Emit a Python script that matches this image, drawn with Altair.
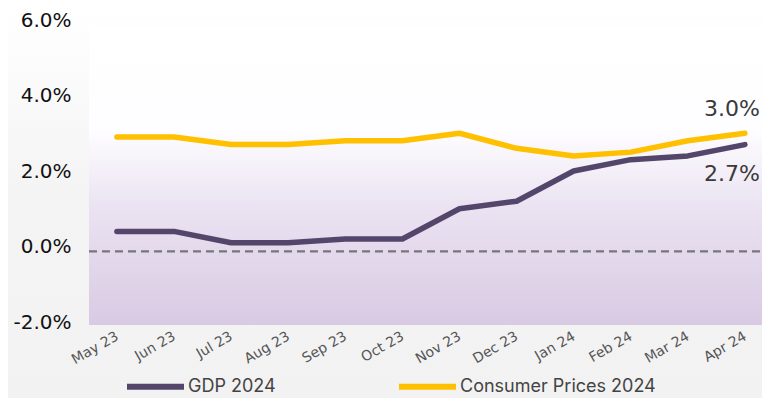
import altair as alt
import pandas as pd

months = ["May 23", "Jun 23", "Jul 23", "Aug 23", "Sep 23", "Oct 23",
          "Nov 23", "Dec 23", "Jan 24", "Feb 24", "Mar 24", "Apr 24"]
gdp = [0.4, 0.4, 0.1, 0.1, 0.2, 0.2, 1.0, 1.2, 2.0, 2.3, 2.4, 2.7]
cpi = [2.9, 2.9, 2.7, 2.7, 2.8, 2.8, 3.0, 2.6, 2.4, 2.5, 2.8, 3.0]
series_names = ["GDP 2024", "Consumer Prices 2024"]
series_colors = ["#54466a", "#ffc000"]
ref_line = [-0.13]
y_ticks = [-2, 0, 2, 4, 6]

rows = []
for i, m in enumerate(months):
    rows.append({"month": m, "series": series_names[0], "value": gdp[i]})
    rows.append({"month": m, "series": series_names[1], "value": cpi[i]})
df = pd.DataFrame(rows)

last = pd.DataFrame([
    {"month": months[-1], "series": series_names[1], "value": cpi[-1],
     "label": f"{cpi[-1]:.1f}%"},
    {"month": months[-1], "series": series_names[0], "value": gdp[-1],
     "label": f"{gdp[-1]:.1f}%"},
])

W, H = 673, 302
yscale = alt.Scale(domain=[-2, 6], nice=False, zero=False)
xscale = alt.Scale(type="point", padding=0.394, align=0.62)

xs = alt.X("month:N", sort=months, scale=xscale,
           axis=alt.Axis(title=None, labelAngle=-30, labelAlign="right",
                         labelBaseline="middle", labelPadding=13,
                         labelFont="DejaVu Sans", labelFontSize=14, labelColor="#555555",
                         domain=False, ticks=False, grid=False, zindex=1))
ys = alt.Y("value:Q", scale=yscale,
           axis=alt.Axis(title=None, values=y_ticks,
                         labelExpr="(datum.value < 0 ? '-' : '') + format(abs(datum.value), '.1f') + '%'",
                         labelFont="DejaVu Sans", labelFontSize=20,
                         labelColor="#111111", labelPadding=18,
                         domain=False, ticks=False, grid=False, zindex=1))

bg = alt.Chart(pd.DataFrame({"a": [0]})).mark_rect(
    color=alt.LinearGradient(
        gradient="linear", x1=0, x2=0, y1=0, y2=1,
        stops=[alt.GradientStop(color="#ffffff", offset=0),
               alt.GradientStop(color="#f4f4f4", offset=0.45),
               alt.GradientStop(color="#f2f2f2", offset=1)])
).encode(x=alt.value(-81), x2=alt.value(W + 10), y=alt.value(-12), y2=alt.value(H + 90))

plotbg = alt.Chart(pd.DataFrame({"a": [0]})).mark_rect(
    color=alt.LinearGradient(
        gradient="linear", x1=0, x2=0, y1=0, y2=1,
        stops=[alt.GradientStop(color="#ffffff", offset=0),
               alt.GradientStop(color="#fefdff", offset=0.35),
               alt.GradientStop(color="#ebe3f2", offset=0.6),
               alt.GradientStop(color="#d8cae3", offset=1)])
).encode(x=alt.value(0), x2=alt.value(W + 10), y=alt.value(6), y2=alt.value(H + 3))

rule = alt.Chart(pd.DataFrame({"value": ref_line})).mark_rule(
    color="#777777", strokeWidth=2.2, strokeDash=[8, 5]
).encode(y=alt.Y("value:Q", scale=yscale), x=alt.value(0), x2=alt.value(W + 10))

lines = alt.Chart(df).mark_line(strokeWidth=5.5, strokeCap="round", strokeJoin="round").encode(
    x=xs, y=ys,
    color=alt.Color("series:N", sort=series_names,
                    scale=alt.Scale(domain=series_names, range=series_colors),
                    legend=alt.Legend(title=None, orient="none", legendX=35, legendY=335,
                                      direction="horizontal", columns=2,
                                      symbolType="stroke", symbolSize=3249,
                                      symbolStrokeWidth=6, labelOffset=1,
                                      columnPadding=111, zindex=1,
                                      labelFont="Inter", labelFontSize=18,
                                      labelColor="#444444", labelLimit=300)),
    detail="series:N",
)

def end_label(name, dy):
    return alt.Chart(last).transform_filter(alt.datum.series == name).mark_text(
        align="right", baseline="middle", dx=15, dy=dy, font="DejaVu Sans",
        fontSize=22, color="#3a3a3a"
    ).encode(
        x=alt.X("month:N", sort=months, scale=xscale),
        y=alt.Y("value:Q", scale=yscale),
        text="label:N",
    )

label_cpi = end_label(series_names[1], -24)
label_gdp = end_label(series_names[0], 29)

chart = alt.layer(bg, plotbg, rule, lines, label_cpi, label_gdp).properties(
    width=W, height=H,
    autosize=alt.AutoSizeParams(type="none"),
    padding={"left": 81, "top": 12, "right": 0, "bottom": 76},
).configure_view(stroke=None).configure(background="#f2f2f2")

chart.save("out.html", embed_options={"renderer": "svg", "actions": False})
